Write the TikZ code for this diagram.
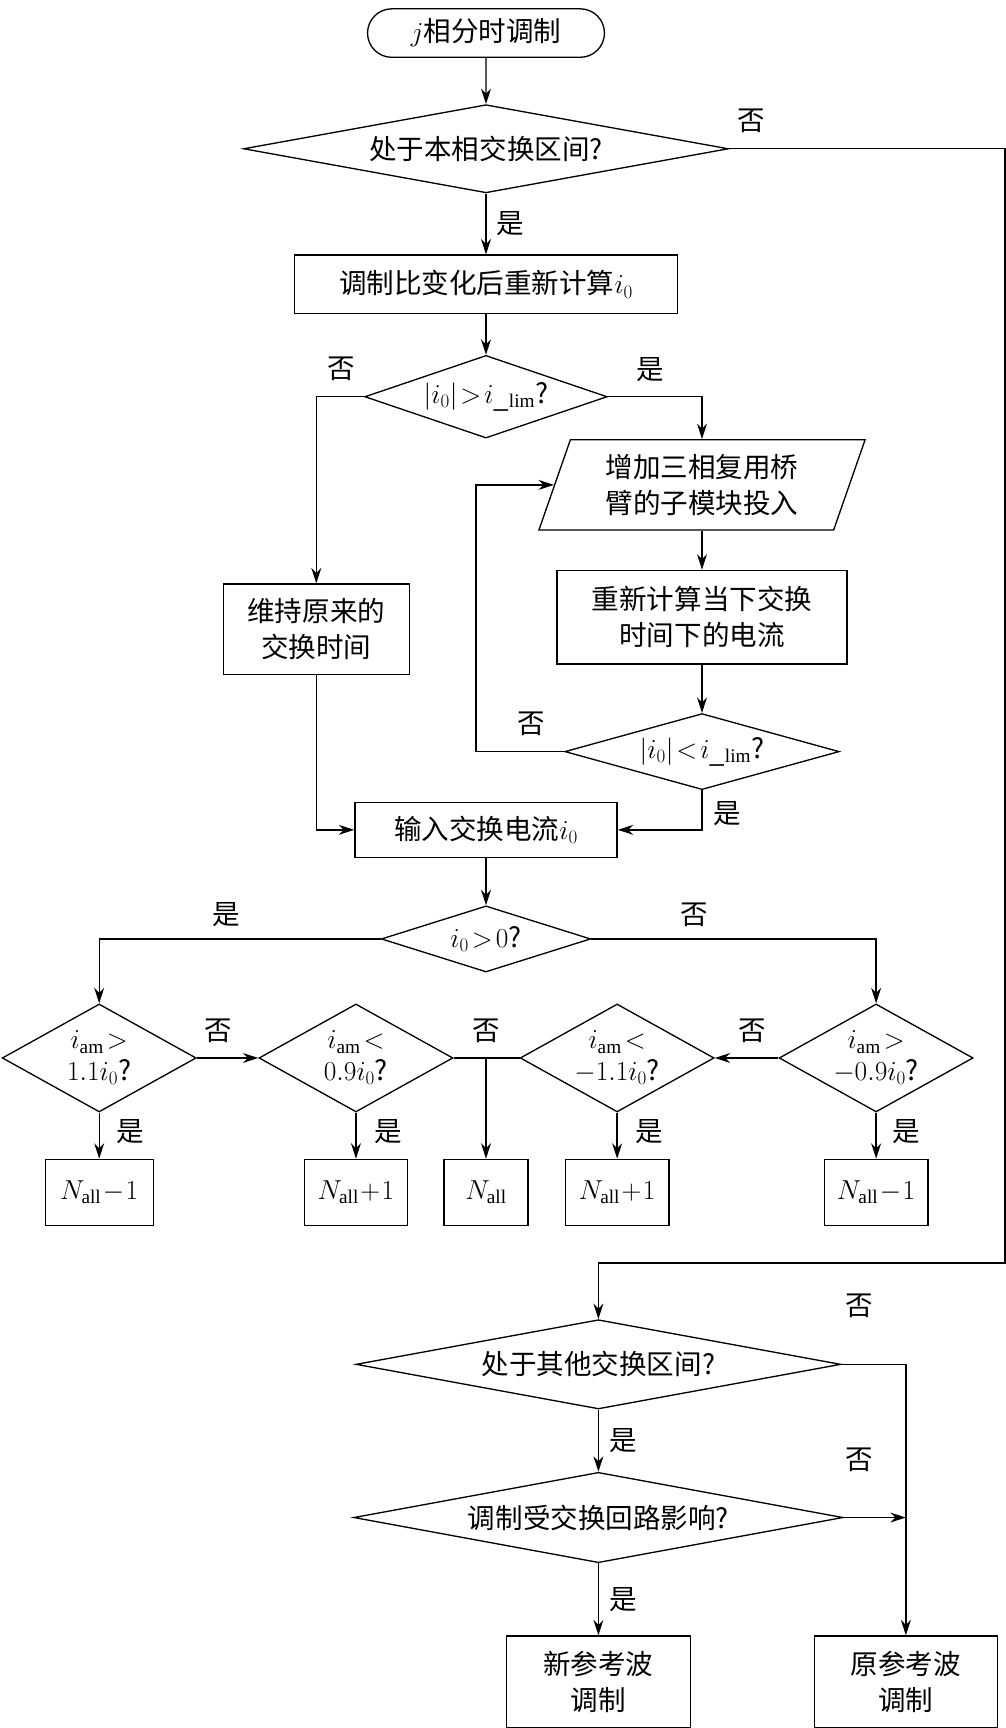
\documentclass[tikz,border=0pt]{standalone}
\usepackage{fontspec}
\setmainfont{Liberation Serif}
\newfontfamily\cjk{Noto Sans CJK SC}
\usetikzlibrary{shapes.geometric,shapes.misc,arrows.meta,positioning}
\tikzset{
  box/.style={draw, line width=1.2pt, inner sep=0pt, align=center, font=\cjk\fontsize{25}{33}\selectfont},
  dia/.style={draw, diamond, line width=1.2pt, inner sep=0pt, label={[font=\cjk\fontsize{25}{29}\selectfont, align=center]center:#1}},
  line/.style={line width=1.2pt},
  arr/.style={line width=1.2pt, -{Stealth[length=14pt,width=9pt]}},
  lab/.style={font=\cjk\fontsize{25}{30}\selectfont}
}
\begin{document}
\begin{tikzpicture}[x=1pt,y=-1pt]
    \useasboundingbox (0,0) rectangle (912,1568);
    
    % top part
    \node[box, rounded rectangle, minimum width=215, minimum height=44] (start) at (441,30) {$j$相分时调制};
    \node[dia={处于本相交换区间?}, minimum width=440, minimum height=80] (d1) at (441,135) {};
    \node[box, minimum width=347, minimum height=53] (calc) at (441,258) {调制比变化后重新计算$i_0$};
    \node[dia={$|i_0|\!>\!i_{\_\mathrm{lim}}$?}, minimum width=220, minimum height=75] (d2) at (441,360) {};
    \node[box, minimum width=169, minimum height=82] (keep) at (287,571) {维持原来的\\交换时间};
    \node[box, trapezium, trapezium left angle=63, trapezium right angle=117, trapezium stretches body, minimum width=296, minimum height=82] (add) at (637,440) {增加三相复用桥\\臂的子模块投入};
    \node[box, minimum width=263, minimum height=85] (recalc) at (637,560) {重新计算当下交换\\时间下的电流};
    \node[dia={$|i_0|\!<\!i_{\_\mathrm{lim}}$?}, minimum width=249, minimum height=69] (d3) at (637,682) {};
    \node[box, minimum width=238, minimum height=50] (input) at (441,753) {输入交换电流$i_0$};
    \node[dia={$i_0\!>\!0$?}, minimum width=190, minimum height=60] (d4) at (441,852) {};
    
    % four comparisons
    \node[dia={$i_{\mathrm{am}}\!>$\\$1.1i_0$?}, minimum width=176, minimum height=98] (d5) at (90,960) {};
    \node[dia={$i_{\mathrm{am}}\!<$\\$0.9i_0$?}, minimum width=176, minimum height=98] (d6) at (323,960) {};
    \node[dia={$i_{\mathrm{am}}\!<$\\$-1.1i_0$?}, minimum width=176, minimum height=98] (d7) at (560,960) {};
    \node[dia={$i_{\mathrm{am}}\!>$\\$-0.9i_0$?}, minimum width=176, minimum height=98] (d8) at (795,960) {};
    \coordinate (mid) at (441,960);
    
    \node[box, minimum width=98, minimum height=60] (n1) at (90,1082) {$N_{\mathrm{all}}\!-\!1$};
    \node[box, minimum width=94, minimum height=60] (n2) at (323,1082) {$N_{\mathrm{all}}\!+\!1$};
    \node[box, minimum width=76, minimum height=60] (n3) at (441,1082) {$N_{\mathrm{all}}$};
    \node[box, minimum width=94, minimum height=60] (n4) at (560,1082) {$N_{\mathrm{all}}\!+\!1$};
    \node[box, minimum width=94, minimum height=60] (n5) at (795,1082) {$N_{\mathrm{all}}\!-\!1$};
    
    % other phases
    \node[dia={处于其他交换区间?}, minimum width=440, minimum height=81] (d9) at (543,1238) {};
    \node[dia={调制受交换回路影响?}, minimum width=444, minimum height=82] (d10) at (543,1377) {};
    \node[box, minimum width=167, minimum height=83] (newref) at (543,1526) {新参考波\\调制};
    \node[box, minimum width=166, minimum height=83] (oldref) at (822,1526) {原参考波\\调制};
    
    % connectors
    \draw[arr] (start) -- (d1);
    \draw[arr] (d1) -- node[lab, right, xshift=6pt] {是} (calc);
    \draw[arr] (calc) -- (d2);
    \draw[arr] (d2.west) -| (keep.north);
    \draw[arr] (d2.east) -| (add.north -| recalc);
    \draw[arr] (add.south -| recalc) -- (recalc);
    \draw[arr] (recalc) -- (d3);
    \draw[arr] (d3.west) -- ++(-80,0) |- (add.west);
    \draw[arr] (d3.south) |- (input.east);
    \draw[arr] (keep.south) |- (input.west);
    \draw[arr] (input) -- (d4);
    \draw[arr] (d4.west) -| (d5.north);
    \draw[arr] (d4.east) -| (d8.north);
    \draw[arr] (d5.east) -- (d6.west);
    \draw[arr] (d8.west) -- (d7.east);
    \draw[line] (d6.east) -- (d7.west);
    \draw[arr] (mid) -- (n3);
    \draw[arr] (d5) -- (n1);
    \draw[arr] (d6) -- (n2);
    \draw[arr] (d7) -- (n4);
    \draw[arr] (d8) -- (n5);
    \draw[arr] (d1.east) -- (912,135) |- (543,1146) -- (d9.north);
    \draw[arr] (d9) -- node[lab, right, xshift=6pt] {是} (d10);
    \draw[arr] (d10) -- node[lab, right, xshift=6pt] {是} (newref);
    \draw[arr] (d9.east) -| (oldref.north);
    \draw[arr] (d10.east) -- (d10.east -| oldref);
    
    % labels
    \node[lab] at (682,110) {否};
    \node[lab] at (310,335) {否};
    \node[lab] at (590,335) {是};
    \node[lab] at (482,657) {否};
    \node[lab] at (660,738) {是};
    \node[lab] at (205,830) {是};
    \node[lab] at (630,830) {否};
    \node[lab] at (198,935) {否};
    \node[lab] at (441,935) {否};
    \node[lab] at (683,935) {否};
    \node[lab] at (118,1027) {是};
    \node[lab] at (352,1027) {是};
    \node[lab] at (589,1027) {是};
    \node[lab] at (822,1027) {是};
    \node[lab] at (780,1185) {否};
    \node[lab] at (780,1325) {否};
\end{tikzpicture}
\end{document}
